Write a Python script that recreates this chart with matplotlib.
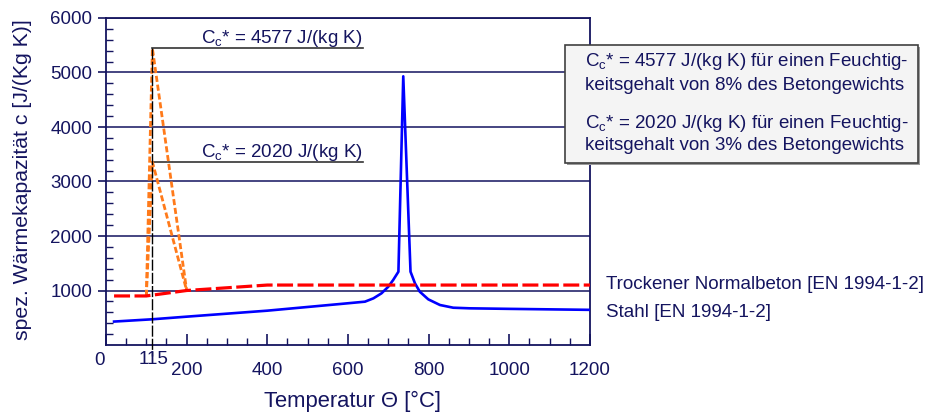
import matplotlib
matplotlib.use("Agg")
import matplotlib.pyplot as plt
from matplotlib.patches import Rectangle

plt.rcParams['font.family'] = ['Liberation Sans', 'DejaVu Sans']
plt.rcParams['mathtext.fontset'] = 'custom'
plt.rcParams['mathtext.rm'] = 'Liberation Sans'
plt.rcParams['mathtext.it'] = 'Liberation Sans'
plt.rcParams['mathtext.default'] = 'regular'

# ---- data ----
steel_T = [20, 115, 200, 400, 580, 642, 663, 683, 700, 712, 725, 737, 755, 766, 778, 799, 828, 861, 902, 1000, 1200]
steel_c = [430, 472, 520, 630, 752, 795, 856, 948, 1070, 1193, 1345, 4930, 1345, 1132, 978, 838, 734, 684, 673, 663, 645]

conc_T = [20, 100, 200, 400, 1200]
conc_c = [900, 900, 1000, 1100, 1100]

moist8_T = [100, 115, 200]
moist8_c = [900, 5444, 1000]
moist3_T = [100, 115, 200]
moist3_c = [900, 3360, 1000]

peak_T = 115
peak_label_end = 636
xticks = [200, 400, 600, 800, 1000, 1200]
yticks = [1000, 2000, 3000, 4000, 5000, 6000]

NAVY = '#14145f'
W, H = 928, 415
fig = plt.figure(figsize=(W / 100, H / 100), dpi=100)
L, R, T, B = 106, 590, 18, 345
ax = fig.add_axes([L / W, 1 - B / H, (R - L) / W, (B - T) / H])

ax.set_xlim(0, 1200)
ax.set_ylim(0, 6000)

for y in yticks:
    ax.axhline(y, color=NAVY, lw=1.1, zorder=1)

ax.plot(steel_T, steel_c, color='#0000ff', lw=1.9, zorder=4)
ax.plot(conc_T, conc_c, color='#ff0000', lw=2.3, dashes=(5, 1.4), zorder=5)
ax.plot(moist8_T, moist8_c, color='#ff7a1a', lw=2.0, dashes=(2.2, 1.0), zorder=3)
ax.plot(moist3_T, moist3_c, color='#ff7a1a', lw=2.0, dashes=(2.2, 1.0), zorder=3)

# annotation lines
ax.plot([peak_T, peak_T], [moist8_c[1], -200], color='black', lw=1.0, dashes=(8, 1.5), zorder=6, clip_on=False)
ax.plot([peak_T, peak_label_end], [moist8_c[1], moist8_c[1]], color='#333333', lw=1.2, zorder=2)
ax.plot([peak_T, peak_label_end], [moist3_c[1], moist3_c[1]], color='#333333', lw=1.2, zorder=2)
ax.text(236, moist8_c[1] + 95, 'C$_c$* = 4577 J/(kg K)', color=NAVY, fontsize=13.5, va='baseline', ha='left')
ax.text(236, moist3_c[1] + 95, 'C$_c$* = 2020 J/(kg K)', color=NAVY, fontsize=13.5, va='baseline', ha='left')

for s in ax.spines.values():
    s.set_color(NAVY)
    s.set_linewidth(1.3)

ax.set_xticks([0] + xticks)
ax.set_xticklabels([''] + [str(v) for v in xticks])
ax.set_xticks(list(range(50, 1200, 50)), minor=True)
ax.tick_params(axis='x', which='major', direction='in', length=8, width=1.2, color=NAVY,
               labelcolor=NAVY, labelsize=13.5, pad=12)
ax.tick_params(axis='x', which='minor', direction='in', length=5, width=1.0, color=NAVY)
ax.set_yticks(yticks)
ax.set_yticks([v for v in range(200, 6000, 200) if v % 1000 != 0], minor=True)
ax.tick_params(axis='y', which='major', direction='out', length=6, width=1.2, color=NAVY,
               labelcolor=NAVY, labelsize=13.5, pad=4)
ax.tick_params(axis='y', which='minor', direction='in', length=5, width=1.0, color=NAVY)

def ft(x, y, s, **kw):
    fig.text(x / W, 1 - y / H, s, **kw)

ft(100, 360, '0', color=NAVY, fontsize=13.5, ha='center', va='center')
ft(154, 359, '115', color=NAVY, fontsize=13.5, ha='center', va='center')
ft(353, 401, 'Temperatur Θ [°C]', color=NAVY, fontsize=15.8, ha='center', va='center')
ft(23, 180, 'spez. Wärmekapazität c [J/(Kg K)]', color=NAVY, fontsize=15.3, ha='center', va='center', rotation=90)

ft(606, 284, 'Trockener Normalbeton [EN 1994-1-2]', color=NAVY, fontsize=13.5, ha='left', va='center')
ft(606, 312, 'Stahl [EN 1994-1-2]', color=NAVY, fontsize=13.5, ha='left', va='center')

# info box
bx0, by0, bx1, by1 = 565, 45, 918, 163
fig.patches.append(Rectangle(((bx0 + 2) / W, 1 - (by1 + 2) / H), (bx1 - bx0) / W, (by1 - by0) / H,
                             transform=fig.transFigure, facecolor='#9a9a9a', edgecolor='none', zorder=8))
fig.patches.append(Rectangle((bx0 / W, 1 - by1 / H), (bx1 - bx0) / W, (by1 - by0) / H,
                             transform=fig.transFigure, facecolor='#f4f4f4', edgecolor='#404040', lw=1.2, zorder=9))
box_lines = [
    (62, 'C$_c$* = 4577 J/(kg K) für einen Feuchtig-'),
    (85, 'keitsgehalt von 8% des Betongewichts'),
    (123, 'C$_c$* = 2020 J/(kg K) für einen Feuchtig-'),
    (146, 'keitsgehalt von 3% des Betongewichts'),
]
for y, s in box_lines:
    ft(585, y, s, color=NAVY, fontsize=13.5, ha='left', va='center', zorder=10)

fig.savefig('out.png', dpi=100)
